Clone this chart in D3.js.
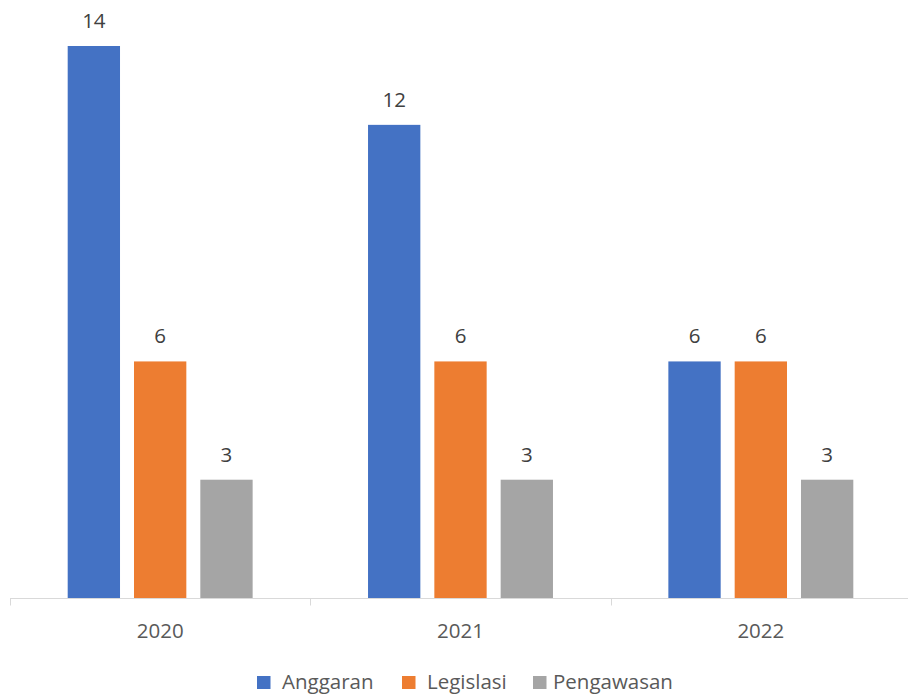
<!DOCTYPE html>
<html>
<head>
<meta charset="utf-8">
<script src="https://cdn.jsdelivr.net/npm/d3@7"></script>
<style>
  html, body { margin: 0; padding: 0; background: #ffffff; }
  svg { display: block; font-family: "Open Sans", sans-serif; }
</style>
</head>
<body>
<svg id="chart" width="908" height="695"></svg>
<script>
const categories = ["2020", "2021", "2022"];
const seriesNames = ["Anggaran", "Legislasi", "Pengawasan"];
const anggaran = [14, 12, 6];
const legislasi = [6, 6, 6];
const pengawasan = [3, 3, 3];
const seriesColors = ["#4472C4", "#ED7D31", "#A5A5A5"];

const seriesValues = [anggaran, legislasi, pengawasan];
const data = categories.map((c, i) => ({
  category: c,
  values: seriesNames.map((s, j) => ({ series: s, value: seriesValues[j][i], color: seriesColors[j] }))
}));

const svg = d3.select("#chart");

const x0 = d3.scaleBand().domain(categories).range([10, 911]).padding(0);
const x1 = d3.scaleBand().domain(seriesNames).range([0, x0.bandwidth()])
  .paddingInner(0.211).paddingOuter(0.87);
const y = d3.scaleLinear().domain([0, 14]).range([598, 46]);

const groups = svg.append("g").selectAll("g")
  .data(data).enter().append("g")
  .attr("transform", d => `translate(${x0(d.category)},0)`);

groups.selectAll("rect")
  .data(d => d.values).enter().append("rect")
  .attr("x", d => x1(d.series))
  .attr("y", d => y(d.value))
  .attr("width", x1.bandwidth())
  .attr("height", d => y(0) - y(d.value))
  .attr("fill", d => d.color);

groups.selectAll("text.lbl")
  .data(d => d.values).enter().append("text")
  .attr("class", "lbl")
  .attr("x", d => x1(d.series) + x1.bandwidth() / 2)
  .attr("y", d => y(d.value) - 18)
  .attr("text-anchor", "middle")
  .attr("font-size", "20.5px")
  .attr("fill", "#404040")
  .text(d => d.value);

// x axis
const axis = svg.append("g")
  .attr("transform", `translate(0,${y(0) + 0.5})`)
  .call(d3.axisBottom(x0).tickSize(0).tickPadding(0));
axis.select(".domain").remove();
axis.selectAll("text").remove();
axis.append("line")
  .attr("x1", 10).attr("x2", 908)
  .attr("stroke", "#d9d9d9").attr("stroke-width", 1);

// boundary ticks between categories
const bounds = categories.map(c => x0(c)).concat([x0(categories[categories.length - 1]) + x0.bandwidth()]);
axis.selectAll("line.bt").data(bounds).enter().append("line")
  .attr("class", "bt")
  .attr("x1", d => Math.round(d) + 0.5).attr("x2", d => Math.round(d) + 0.5)
  .attr("y1", 0).attr("y2", 7)
  .attr("stroke", "#d9d9d9").attr("stroke-width", 1);

svg.append("g").selectAll("text")
  .data(categories).enter().append("text")
  .attr("x", d => x0(d) + x0.bandwidth() / 2)
  .attr("y", 638)
  .attr("text-anchor", "middle")
  .attr("font-size", "20.5px")
  .attr("fill", "#595959")
  .text(d => d);

// legend
const legendX = [257, 402, 533];
const legend = svg.append("g");
seriesNames.forEach((s, i) => {
  legend.append("rect")
    .attr("x", legendX[i]).attr("y", 676)
    .attr("width", 13.5).attr("height", 13)
    .attr("fill", seriesColors[i]);
  legend.append("text")
    .attr("x", legendX[i] + (i === 2 ? 20 : 25))
    .attr("y", 689)
    .attr("font-size", "20.5px")
    .attr("fill", "#595959")
    .text(s);
});
</script>
</body>
</html>
